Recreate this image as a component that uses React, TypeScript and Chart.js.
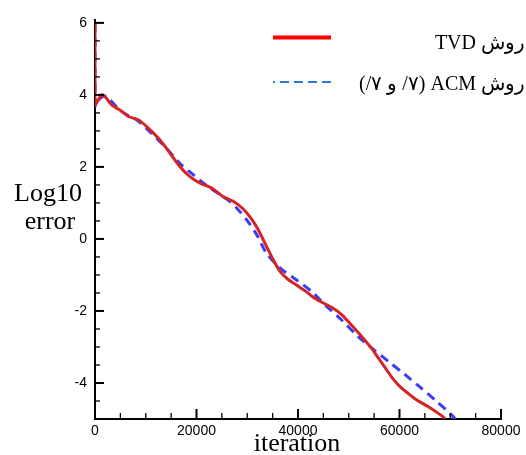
import React, { useEffect, useRef } from "react";
import { Chart, registerables } from "chart.js";

Chart.register(...registerables);

// ---- data ----
const TVD_ITER = [0, 0, 600, 1300, 2000, 3300, 4900, 6600, 8500, 10200, 12800, 14800, 16700, 18700, 20700, 23000, 25200, 27300, 29000, 30500, 32000, 33500, 34800, 36500, 38000, 39700, 41500, 43300, 45000, 47000, 48600, 50200, 52500, 54500, 56000, 57500, 58800, 60100, 61800, 63400, 65700, 67200, 68600, 69000];
const TVD_ERR = [6, 3.72, 3.85, 4.0, 3.95, 3.72, 3.58, 3.4, 3.31, 3.12, 2.75, 2.38, 2.01, 1.73, 1.55, 1.41, 1.18, 1.04, 0.86, 0.62, 0.3, -0.12, -0.49, -0.91, -1.12, -1.28, -1.45, -1.65, -1.78, -1.93, -2.1, -2.34, -2.7, -3.04, -3.34, -3.64, -3.9, -4.1, -4.3, -4.47, -4.66, -4.8, -4.94, -5.0];

const ACM_ITER = [0, 0, 1000, 2000, 3000, 4900, 6600, 8200, 10800, 13800, 16700, 19400, 22300, 25200, 26600, 28300, 29900, 31900, 33800, 36500, 39700, 42700, 45300, 48600, 51900, 54800, 57800, 61100, 64000, 67000, 70300, 71000];
const ACM_ERR = [6, 3.7, 3.9, 3.97, 3.85, 3.58, 3.42, 3.31, 2.98, 2.56, 2.1, 1.78, 1.45, 1.18, 1.04, 0.8, 0.53, 0.11, -0.4, -0.81, -1.14, -1.46, -1.83, -2.25, -2.72, -3.06, -3.4, -3.77, -4.11, -4.47, -4.89, -5.0];

const X_TICKS = [0, 20000, 40000, 60000, 80000];
const Y_TICKS = [-4, -2, 0, 2, 4, 6];
const X_MINOR_STEP = 5000;
const Y_MINOR_STEP = 0.5;

const LEGEND_TVD = "TVD روش";
const LEGEND_ACM = "\u202D(/۷ و /۷)\u202C ACM روش";
const X_TITLE = "iteration";
const Y_TITLE = ["Log10", "error"];

const SERIF = "'Liberation Serif', 'Times New Roman', serif";
const SANS = "'Liberation Sans', Arial, sans-serif";

const decorPlugin = {
  id: "decor",
  afterDraw(chart: any) {
    const { ctx, chartArea, scales } = chart;
    const xs = scales.x;
    const ys = scales.y;
    ctx.save();
    ctx.strokeStyle = "#000";
    ctx.lineCap = "butt";
    // x ticks (inward)
    for (let v = 0; v <= xs.max + 1e-6; v += X_MINOR_STEP) {
      const major = X_TICKS.includes(v);
      if (v === 0) continue;
      const px = xs.getPixelForValue(v);
      ctx.lineWidth = major ? 2 : 1.3;
      ctx.beginPath();
      ctx.moveTo(px, chartArea.bottom);
      ctx.lineTo(px, chartArea.bottom - (major ? 10 : 6));
      ctx.stroke();
    }
    // y ticks (inward)
    const yStart = Math.ceil(ys.min / Y_MINOR_STEP) * Y_MINOR_STEP;
    for (let v = yStart; v <= ys.max + 1e-6; v += Y_MINOR_STEP) {
      if (Math.abs(v - ys.min) < 1e-6) continue;
      const major = Y_TICKS.some((t) => Math.abs(t - v) < 1e-6);
      const py = ys.getPixelForValue(v);
      ctx.lineWidth = major ? 2 : 1.3;
      ctx.beginPath();
      ctx.moveTo(chartArea.left, py);
      ctx.lineTo(chartArea.left + (major ? 9 : 5), py);
      ctx.stroke();
    }

    // axis titles
    ctx.fillStyle = "#000";
    ctx.textAlign = "center";
    ctx.textBaseline = "alphabetic";
    ctx.font = `26px ${SERIF}`;
    ctx.fillText(X_TITLE, (chartArea.left + chartArea.right) / 2 - 1, 451);
    ctx.fillText(Y_TITLE[0], 48, 201);
    ctx.fillText(Y_TITLE[1], 50, 229);

    // legend
    ctx.lineWidth = 4;
    ctx.strokeStyle = "#ff0000";
    ctx.beginPath();
    ctx.moveTo(273, 37.5);
    ctx.lineTo(331, 37.5);
    ctx.stroke();

    ctx.lineWidth = 2;
    ctx.strokeStyle = "#2a7ad8";
    ctx.setLineDash([9, 5]);
    ctx.lineDashOffset = 7;
    ctx.beginPath();
    ctx.moveTo(273, 82);
    ctx.lineTo(331, 82);
    ctx.stroke();
    ctx.setLineDash([]);

    ctx.font = `20px ${SERIF}`;
    ctx.textAlign = "right";
    ctx.fillText(LEGEND_TVD, 525, 49);
    ctx.fillText(LEGEND_ACM, 525, 90);
    ctx.restore();
  },
};

export default function App() {
  const ref = useRef<HTMLCanvasElement | null>(null);
  useEffect(() => {
    if (!ref.current) return;
    const chart = new Chart(ref.current, {
      type: "line",
      data: {
        datasets: [
          {
            label: "TVD",
            data: TVD_ITER.map((x, i) => ({ x, y: TVD_ERR[i] })),
            borderColor: "#d42424",
            borderWidth: 3,
            pointRadius: 0,
            tension: 0.3,
            fill: false,
          },
          {
            label: "ACM",
            data: ACM_ITER.map((x, i) => ({ x, y: ACM_ERR[i] })),
            borderColor: "#3c3cf8",
            borderWidth: 3,
            borderDash: [9, 6],
            pointRadius: 0,
            tension: 0.3,
            fill: false,
          },
        ],
      },
      options: {
        responsive: false,
        animation: false,
        devicePixelRatio: 1,
        layout: { padding: { left: 0, right: 25, top: 20, bottom: 0 } },
        plugins: { legend: { display: false }, tooltip: { enabled: false } },
        scales: {
          x: {
            type: "linear",
            min: 0,
            max: 80000,
            afterBuildTicks: (s: any) => {
              s.ticks = X_TICKS.map((v) => ({ value: v }));
            },
            afterFit: (s: any) => {
              s.height = 36;
            },
            grid: { display: false, drawTicks: false },
            border: { display: true, color: "#000", width: 2 },
            ticks: {
              color: "#000",
              font: { family: SANS, size: 14 },
              padding: 4,
              maxRotation: 0,
              callback: (v: any) => String(v),
            },
          },
          y: {
            type: "linear",
            min: -5,
            max: 6.08,
            afterBuildTicks: (s: any) => {
              s.ticks = Y_TICKS.map((v) => ({ value: v }));
            },
            afterFit: (s: any) => {
              s.width = 95;
            },
            grid: { display: false, drawTicks: false },
            border: { display: true, color: "#000", width: 2 },
            ticks: {
              color: "#000",
              font: { family: SANS, size: 14 },
              padding: 8,
              callback: (v: any) => String(v),
            },
          },
        },
      },
      plugins: [decorPlugin],
    });
    return () => chart.destroy();
  }, []);
  return (
    <div style={{ position: "absolute", left: 0, top: 0, width: 526, height: 455 }}>
      <canvas ref={ref} width={526} height={455} />
    </div>
  );
}
